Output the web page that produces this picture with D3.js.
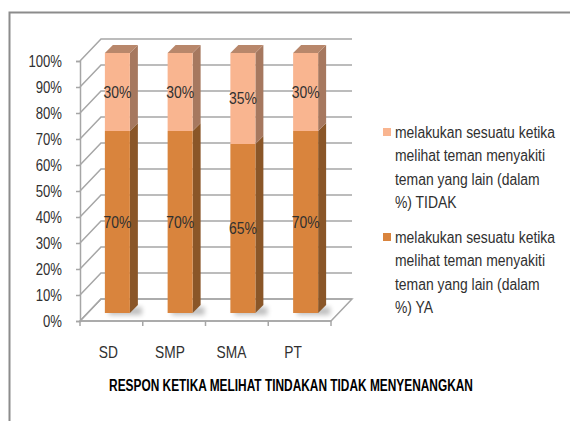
<!DOCTYPE html>
<html>
<head>
<meta charset="utf-8">
<script src="https://cdn.jsdelivr.net/npm/d3@7/dist/d3.min.js"></script>
<style>
  body { margin: 0; background: #fff; }
  text { font-family: "Liberation Sans", Arial, sans-serif; fill: #303030; }
</style>
</head>
<body>
<div id="chart"></div>
<script>
// data
var categories = ["SD", "SMP", "SMA", "PT"];
var ya = [70, 70, 65, 70];
var tidak = [30, 30, 35, 30];
var yTicks = [0, 10, 20, 30, 40, 50, 60, 70, 80, 90, 100];
var legendTidak = ["melakukan sesuatu ketika", "melihat teman menyakiti", "teman yang lain (dalam", "%) TIDAK"];
var legendYa = ["melakukan sesuatu ketika", "melihat teman menyakiti", "teman yang lain (dalam", "%) YA"];
var mainTitle = "RESPON KETIKA MELIHAT TINDAKAN TIDAK MENYENANGKAN";

var w = 570, h = 421;
var depthX = 21, depthY = -22;   // wall depth
var barDX = 6, barDY = -8;       // bar front face offset into the depth
var barD = 8;                     // bar thickness
var barW = 25;

// narrow the text horizontally (original font is a condensed one)
function squeeze(sel, sx) {
	sel.each(function() {
		var t = d3.select(this);
		var xx = +t.attr("x") || 0, yy = +t.attr("y") || 0;
		t.attr("x", 0).attr("y", 0)
			.attr("transform", "translate(" + xx + "," + yy + ") scale(" + sx + ",1)");
	});
}

var svg = d3.select("#chart").append("svg")
	.attr("width", w).attr("height", h);

var defs = svg.append("defs");
defs.append("filter").attr("id", "blur")
	.attr("x", "-50%").attr("y", "-50%").attr("width", "200%").attr("height", "200%")
	.append("feGaussianBlur").attr("stdDeviation", 2.5);

// outer frame
svg.append("path")
	.attr("d", "M9.5,421 L9.5,12.5 L570,12.5")
	.attr("fill", "none").attr("stroke", "#8c8c8c").attr("stroke-width", 2);

var x = d3.scaleBand().domain(categories).range([80, 331]);
var y = d3.scaleLinear().domain([0, 100]).range([321, 61]);

var x0 = x.range()[0], x1 = x.range()[1];

// floor
svg.append("path")
	.attr("d", "M" + x0 + "," + y(0) + " L" + x1 + "," + y(0) + " L" + (x1 + depthX) + "," + (y(0) + depthY) +
		" L" + (x0 + depthX) + "," + (y(0) + depthY) + " Z")
	.attr("fill", "#fff").attr("stroke", "#a6a6a6").attr("stroke-width", 1.5);

// grid on the side and back walls
var grid = svg.append("g").attr("fill", "none").attr("stroke", "#a6a6a6").attr("stroke-width", 1.5);
yTicks.forEach(function(t) {
	var yy = y(t);
	grid.append("path")
		.attr("d", "M" + x0 + "," + yy + " L" + (x0 + depthX) + "," + (yy + depthY) + " L" + (x1 + depthX) + "," + (yy + depthY));
});

// y axis
var yAxis = svg.append("g").attr("transform", "translate(" + x0 + ",0)")
	.call(d3.axisLeft(y).tickValues(yTicks).tickSize(4).tickPadding(14).tickFormat(function(d) { return d + "%"; }));
yAxis.select(".domain").attr("stroke", "#a6a6a6").attr("stroke-width", 1.5);
yAxis.selectAll(".tick line").attr("stroke", "#a6a6a6").attr("stroke-width", 1.5);
yAxis.selectAll("text").style("font-size", "16px").attr("fill", "#303030").attr("dy", "0.35em")
	.style("font-family", "'Liberation Sans', Arial, sans-serif");
squeeze(yAxis.selectAll("text"), 0.82);

// x axis
var xAxis = svg.append("g").attr("transform", "translate(0," + y(0) + ")");
var bounds = categories.map(function(c) { return x(c); }).concat([x1]);
xAxis.selectAll("line.cat").data(bounds).enter().append("line")
	.attr("x1", function(d) { return d; }).attr("x2", function(d) { return d; })
	.attr("y1", 0).attr("y2", 5)
	.attr("stroke", "#a6a6a6").attr("stroke-width", 1.5);
xAxis.append("line").attr("x1", x0).attr("x2", x1).attr("stroke", "#a6a6a6").attr("stroke-width", 1.5);

var catLabels = svg.append("g").selectAll("text").data(categories).enter().append("text")
	.attr("x", function(d, i) { return x(d) + x.bandwidth() / 2 - 3 - i * 1.2; })
	.attr("y", 358)
	.attr("text-anchor", "middle")
	.style("font-size", "16px")
	.text(function(d) { return d; });
squeeze(catLabels, 0.86);

// bars
var stacked = categories.map(function(c, i) {
	return { cat: c, segs: [
		{ lo: 0, hi: ya[i], v: ya[i], front: "#d9843d", side: "#8a5628" },
		{ lo: ya[i], hi: ya[i] + tidak[i], v: tidak[i], front: "#f9b590", side: "#a6785f", top: "#b8876b" }
	] };
});

var bars = svg.append("g");
stacked.forEach(function(d) {
	var bx = x(d.cat) + x.bandwidth() / 2 + barDX - barW / 2;
	var g = bars.append("g");
	// shadow on the floor
	g.append("rect")
		.attr("x", bx + 4).attr("y", y(0) + barDY - 6)
		.attr("width", barW + 8).attr("height", 8)
		.attr("fill", "#000").attr("opacity", 0.25)
		.attr("filter", "url(#blur)");
	d.segs.forEach(function(s) {
		var yt = y(s.hi) + barDY, yb = y(s.lo) + barDY;
		g.append("path")
			.attr("d", "M" + (bx + barW) + "," + yt + " L" + (bx + barW + barD) + "," + (yt - barD) +
				" L" + (bx + barW + barD) + "," + (yb - barD) + " L" + (bx + barW) + "," + yb + " Z")
			.attr("fill", s.side);
		g.append("rect")
			.attr("x", bx).attr("y", yt).attr("width", barW).attr("height", yb - yt)
			.attr("fill", s.front);
		if (s.top) {
			g.append("path")
				.attr("d", "M" + bx + "," + yt + " L" + (bx + barD) + "," + (yt - barD) +
					" L" + (bx + barW + barD) + "," + (yt - barD) + " L" + (bx + barW) + "," + yt + " Z")
				.attr("fill", s.top);
		}
		var lbl = g.append("text")
			.attr("x", bx + barW / 2)
			.attr("y", (yt + yb) / 2)
			.attr("dy", "0.35em")
			.attr("text-anchor", "middle")
			.style("font-size", "17px")
			.text(s.v + "%");
		squeeze(lbl, 0.82);
	});
});

// legend
function addLegendItem(lines, color, top) {
	var g = svg.append("g");
	g.append("rect").attr("x", 383).attr("y", top).attr("width", 8).attr("height", 8).attr("fill", color);
	var t = g.selectAll("text").data(lines).enter().append("text")
		.attr("x", 395)
		.attr("y", function(d, i) { return top + 10 + i * 23.3; })
		.style("font-size", "16px")
		.text(function(d) { return d; });
	squeeze(t, 0.87);
}
addLegendItem(legendTidak, "#f9b590", 128);
addLegendItem(legendYa, "#d9843d", 233);

// title
var title = svg.append("text")
	.attr("x", 291).attr("y", 391)
	.attr("text-anchor", "middle")
	.style("font-size", "17px").style("font-weight", "bold")
	.style("fill", "#000")
	.text(mainTitle);
squeeze(title, 0.70);
</script>
</body>
</html>
